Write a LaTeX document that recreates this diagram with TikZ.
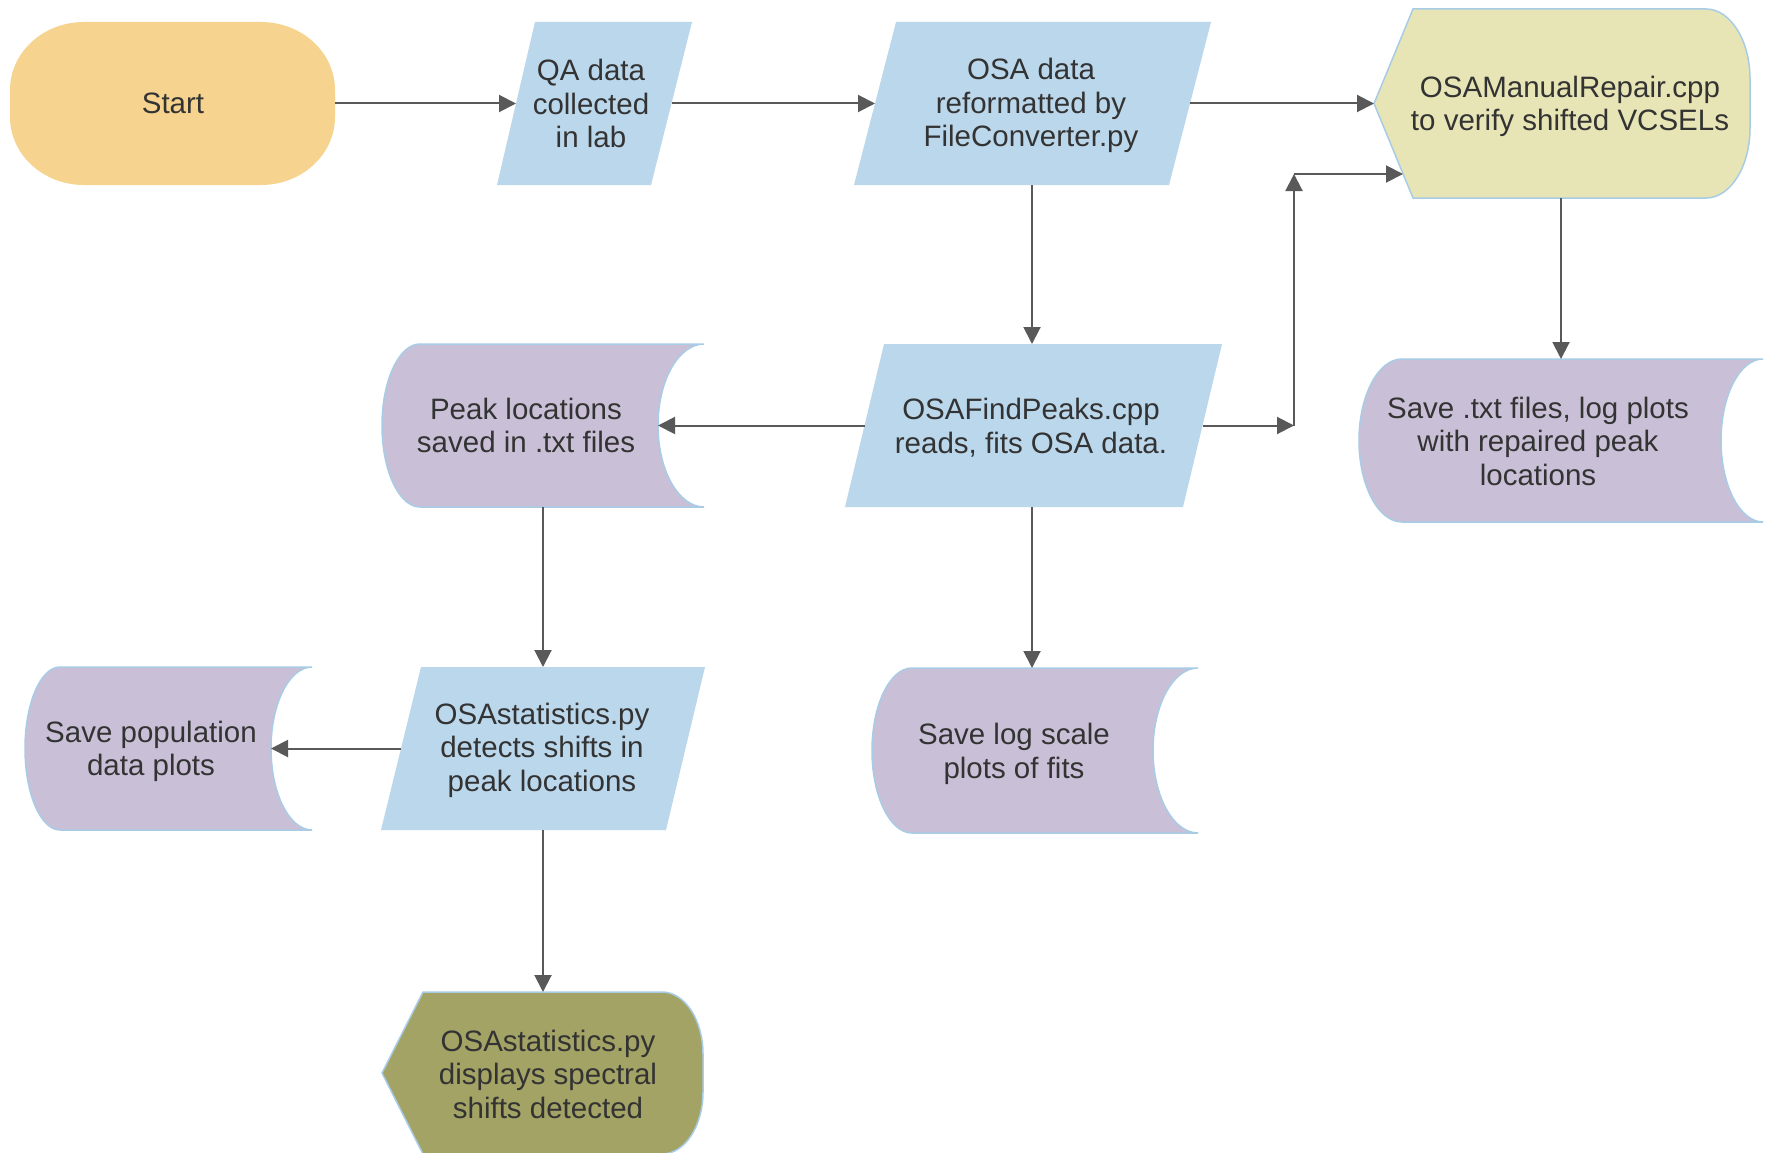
\documentclass[tikz,border=0pt]{standalone}
\usepackage{fontspec}
\setmainfont{Liberation Sans}
\usetikzlibrary{arrows.meta}

\definecolor{startfill}{HTML}{F6D48F}
\definecolor{iofill}{HTML}{BBD7EC}
\definecolor{dispfill}{HTML}{E7E5B5}
\definecolor{storefill}{HTML}{C9C0D7}
\definecolor{olivefill}{HTML}{A2A364}
\definecolor{edgeblue}{HTML}{A9CCE6}
\definecolor{linkgray}{HTML}{595959}
\definecolor{txtgray}{HTML}{333333}

% stored-data outline: convex left side, concave right side
% #1 left, #2 right, #3 top, #4 bottom, #5 left bulge, #6 right notch
\newcommand\storedpath[6]{%
  \pgfmathsetmacro\sM{(#3+#4)/2}%
  \pgfmathsetmacro\sH{(#4-#3)/2*0.5523}%
  \pgfmathsetmacro\sLa{#1+#5}%
  \pgfmathsetmacro\sLc{#1+#5*(1-0.5523)}%
  \pgfmathsetmacro\sRa{#2-#6}%
  \pgfmathsetmacro\sRc{#2-#6*0.5523}%
  \filldraw[storebox] (\sLa,#3) -- (#2,#3)
    .. controls (\sRc,#3) and (\sRa,\sM-\sH) .. (\sRa,\sM)
    .. controls (\sRa,\sM+\sH) and (\sRc,#4) .. (#2,#4)
    -- (\sLa,#4)
    .. controls (\sLc,#4) and (#1,\sM+\sH) .. (#1,\sM)
    .. controls (#1,\sM-\sH) and (\sLc,#3) .. (\sLa,#3) -- cycle;
}

% display outline: pointed left side, rounded right corners
% #1 tip x, #2 slant end x, #3 corner start x, #4 right x, #5 top, #6 bottom,
% #7 corner height, #8 style
\newcommand\displaypath[8]{%
  \pgfmathsetmacro\dM{(#5+#6)/2}%
  \pgfmathsetmacro\dC{#3+(#4-#3)*0.5523}%
  \pgfmathsetmacro\dTa{#5+#7}%
  \pgfmathsetmacro\dTc{#5+#7*(1-0.5523)}%
  \pgfmathsetmacro\dBa{#6-#7}%
  \pgfmathsetmacro\dBc{#6-#7*(1-0.5523)}%
  \filldraw[#8] (#1,\dM) -- (#2,#5) -- (#3,#5)
    .. controls (\dC,#5) and (#4,\dTc) .. (#4,\dTa)
    -- (#4,\dBa)
    .. controls (#4,\dBc) and (\dC,#6) .. (#3,#6)
    -- (#2,#6) -- cycle;
}

% terminal outline: rectangle with elliptical corners
% #1 left, #2 right, #3 top, #4 bottom, #5 corner width, #6 corner height
\newcommand\terminalpath[6]{%
  \pgfmathsetmacro\tLa{#1+#5}%
  \pgfmathsetmacro\tLc{#1+#5*(1-0.5523)}%
  \pgfmathsetmacro\tRa{#2-#5}%
  \pgfmathsetmacro\tRc{#2-#5*(1-0.5523)}%
  \pgfmathsetmacro\tTa{#3+#6}%
  \pgfmathsetmacro\tTc{#3+#6*(1-0.5523)}%
  \pgfmathsetmacro\tBa{#4-#6}%
  \pgfmathsetmacro\tBc{#4-#6*(1-0.5523)}%
  \fill[terminal] (\tLa,#3) -- (\tRa,#3)
    .. controls (\tRc,#3) and (#2,\tTc) .. (#2,\tTa) -- (#2,\tBa)
    .. controls (#2,\tBc) and (\tRc,#4) .. (\tRa,#4) -- (\tLa,#4)
    .. controls (\tLc,#4) and (#1,\tBc) .. (#1,\tBa) -- (#1,\tTa)
    .. controls (#1,\tTc) and (\tLc,#3) .. (\tLa,#3) -- cycle;
}

\begin{document}
\begin{tikzpicture}[x=1pt,y=-1pt,
  boxtext/.style={font=\fontsize{29.5}{33.5}\selectfont, text=txtgray,
    align=center, inner sep=0pt},
  flowlink/.style={draw=linkgray, line width=2pt,
    -{Triangle[length=17pt,width=17pt]}},
  iobox/.style={fill=iofill},
  storebox/.style={fill=storefill, draw=edgeblue, line width=1.5pt},
  reviewbox/.style={fill=dispfill, draw=edgeblue, line width=1.5pt},
  resultbox/.style={fill=olivefill, draw=edgeblue, line width=1.5pt},
  terminal/.style={fill=startfill}
]
\fill[white] (0,0) rectangle (1767,1153);
\useasboundingbox (0,0) rectangle (1767,1153);

% ---- shapes ----
\terminalpath{10}{335}{22}{185}{74}{68}
\fill[iobox] (535,22) -- (692,22) -- (651,185) -- (497,185) -- cycle;
\fill[iobox] (896,22) -- (1211,22) -- (1169,185) -- (854,185) -- cycle;
\displaypath{1374}{1413}{1706}{1750}{9}{198}{70}{reviewbox}
\fill[iobox] (884,344) -- (1222,344) -- (1183,507) -- (845,507) -- cycle;
\storedpath{382}{704}{344}{507}{38}{46}
\storedpath{1359}{1763}{359}{522}{43}{42}
\fill[iobox] (421,667) -- (705,667) -- (666,830) -- (381,830) -- cycle;
\storedpath{25}{312}{667}{830}{35}{41}
\storedpath{872}{1198}{668}{833}{40}{45}
\displaypath{382}{423}{662}{703}{992}{1154}{62}{resultbox}

% ---- texts ----
\node[boxtext] (start) at (173,103.5) {Start};
\node[boxtext] (qa) at (591,103.5) {QA data\\collected\\in lab};
\node[boxtext] (osa) at (1031,105.5) {OSA data\\reformatted by\\FileConverter.py};
\node[boxtext] (repair) at (1570,106.5) {OSAManualRepair.cpp\\to verify shifted VCSELs};
\node[boxtext] (findpeaks) at (1031,427.5) {OSAFindPeaks.cpp\\reads, fits OSA data.};
\node[boxtext] (peaks) at (526,425.5) {Peak locations\\saved in .txt files};
\node[boxtext] (savetxt) at (1538,441) {Save .txt files, log plots\\with repaired peak\\locations};
\node[boxtext] (stats) at (542,750) {OSAstatistics.py\\detects shifts in\\peak locations};
\node[boxtext] (population) at (151,751.5) {Save population\\data plots};
\node[boxtext] (logplots) at (1014,754) {Save log scale\\plots of fits};
\node[boxtext] (display) at (548,1074) {OSAstatistics.py\\displays spectral\\shifts detected};

% ---- connection points on the outlines ----
\coordinate (start-e) at (335,103.5);
\coordinate (qa-w) at (516,103.5);
\coordinate (qa-e) at (671.5,103.5);
\coordinate (osa-w) at (875,103.5);
\coordinate (osa-e) at (1190,103.5);
\coordinate (osa-s) at (1032,185);
\coordinate (repair-w) at (1374,103.5);
\coordinate (repair-sw) at (1403,174);
\coordinate (repair-s) at (1561,198);
\coordinate (findpeaks-n) at (1032,344);
\coordinate (findpeaks-w) at (864.5,425.5);
\coordinate (findpeaks-e) at (1202.5,425.5);
\coordinate (findpeaks-s) at (1032,507);
\coordinate (peaks-e) at (658,425.5);
\coordinate (peaks-s) at (543,507);
\coordinate (savetxt-n) at (1561,359);
\coordinate (stats-n) at (543,667);
\coordinate (stats-w) at (401,748.5);
\coordinate (stats-s) at (543,830);
\coordinate (population-e) at (271,748.5);
\coordinate (logplots-n) at (1032,668);
\coordinate (display-n) at (543,992);
\coordinate (turn-low) at (1294,425.5);
\coordinate (turn-high) at (1294,174);

% ---- connectors ----
\draw[flowlink] (start-e) -- (qa-w);
\draw[flowlink] (qa-e) -- (osa-w);
\draw[flowlink] (osa-e) -- (repair-w);
\draw[flowlink] (osa-s) -- (findpeaks-n);
\draw[flowlink] (findpeaks-w) -- (peaks-e);
\draw[flowlink] (findpeaks-e) -- (turn-low);
\draw[flowlink] (turn-low) -- (turn-high);
\draw[flowlink] (turn-high) -- (repair-sw);
\draw[flowlink] (repair-s) -- (savetxt-n);
\draw[flowlink] (findpeaks-s) -- (logplots-n);
\draw[flowlink] (peaks-s) -- (stats-n);
\draw[flowlink] (stats-w) -- (population-e);
\draw[flowlink] (stats-s) -- (display-n);
\end{tikzpicture}
\end{document}
